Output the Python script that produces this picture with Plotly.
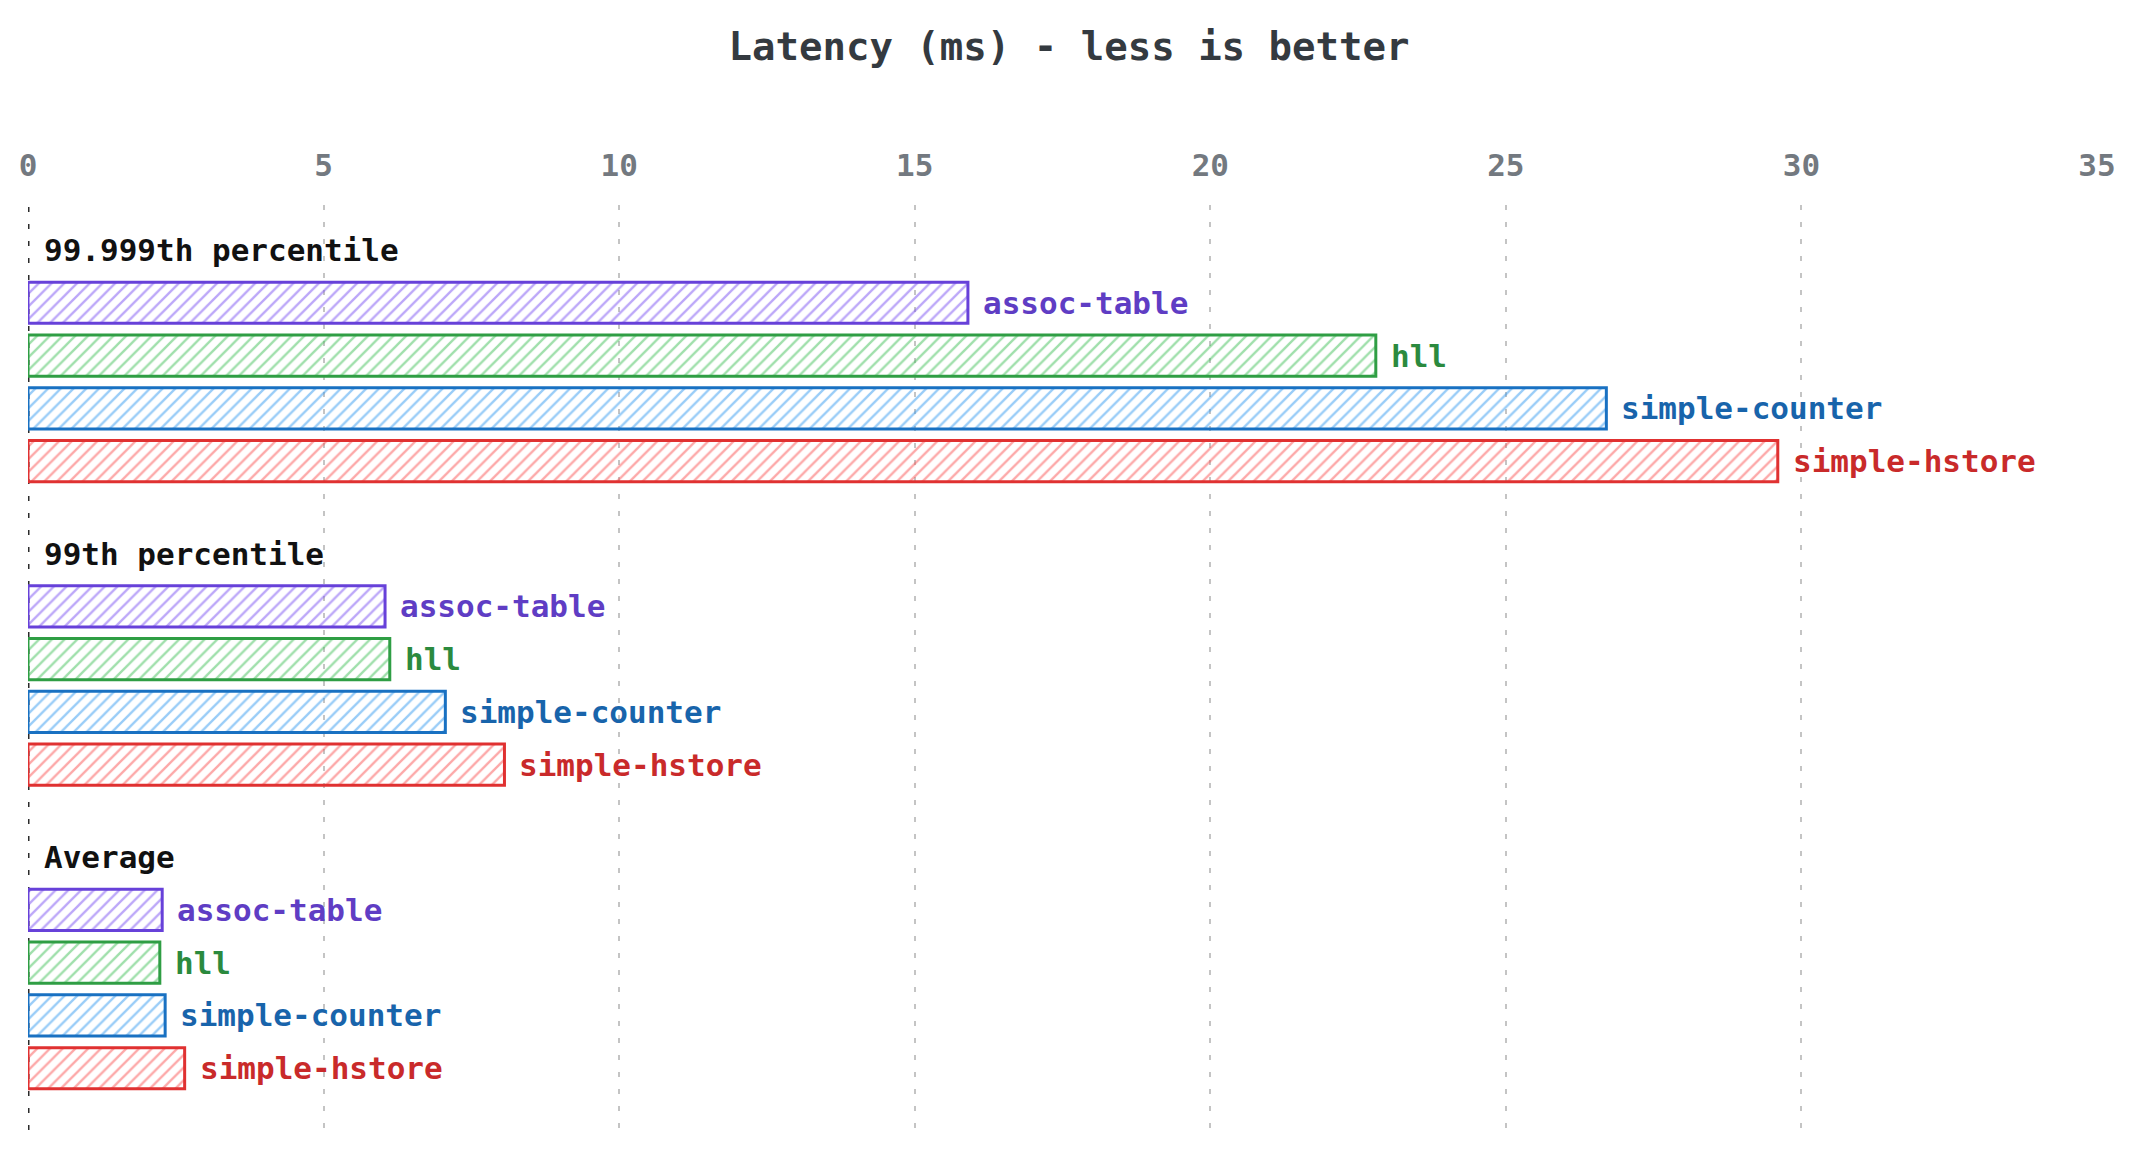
import plotly.graph_objects as go

# ---- data ----
groups = ["99.999th percentile", "99th percentile", "Average"]
series = ["assoc-table", "hll", "simple-counter", "simple-hstore"]
assoc_table = [15.9, 6.04, 2.27]
hll = [22.8, 6.12, 2.23]
simple_counter = [26.7, 7.06, 2.32]
simple_hstore = [29.6, 8.06, 2.65]
values = [assoc_table, hll, simple_counter, simple_hstore]
x_ticks = [0, 5, 10, 15, 20, 25, 30, 35]

# ---- style ----
line_colors = ["#6741d9", "#2f9e44", "#1971c2", "#e03131"]
hatch_colors = ["#7950f2", "#40c057", "#339af0", "#fa5252"]
label_colors = ["#5f3dc4", "#2b8a3e", "#1864ab", "#c92a2a"]
FONT = "DejaVu Sans Mono"
GROUP_STEP = 5.75

fig = go.Figure()
for s, name in enumerate(series):
    ys = [g * GROUP_STEP + 1 + s for g in range(len(groups))]
    fig.add_trace(go.Bar(
        x=values[s], y=ys, orientation="h", width=0.78, name=name,
        marker=dict(
            color="rgba(255,255,255,0)",
            line=dict(color=line_colors[s], width=3),
            pattern=dict(shape="/", fgcolor=hatch_colors[s], bgcolor="rgba(255,255,255,0)",
                         size=9, solidity=0.26, fillmode="overlay"),
        ),
        cliponaxis=False,
        hoverinfo="skip",
    ))
    for g in range(len(groups)):
        fig.add_annotation(x=values[s][g], y=ys[g], xref="x", yref="y", text=name,
                           showarrow=False, xanchor="left", yanchor="middle", xshift=13,
                           font=dict(family=FONT, size=31, color=label_colors[s], weight="bold"))

for g, gname in enumerate(groups):
    fig.add_annotation(x=0, y=g * GROUP_STEP, xref="x", yref="y", text=gname,
                       showarrow=False, xanchor="left", yanchor="middle", xshift=14,
                       font=dict(family=FONT, size=31, color="#111111", weight="bold"))

fig.add_shape(type="line", x0=0, x1=0, xref="x", y0=0, y1=1, yref="paper",
              line=dict(color="#2b2b2b", width=3, dash="5px,12px"), layer="below")

fig.update_layout(
    width=2138, height=1160,
    margin=dict(l=28, r=41, t=205, b=30),
    paper_bgcolor="white", plot_bgcolor="white",
    showlegend=False, barmode="overlay",
    title=dict(text="Latency (ms) - less is better", x=0.5, xanchor="center",
               y=1 - 46 / 1160, yref="container", yanchor="middle",
               font=dict(family=FONT, size=39, color="#343a40", weight="bold")),
    xaxis=dict(side="top", range=[0, 35], tickvals=x_ticks, ticktext=[str(t) for t in x_ticks],
               showgrid=True, gridcolor="#c4c4c4", gridwidth=2, griddash="5px,12px",
               zeroline=False, showline=False, ticks="", ticklabelstandoff=22,
               tickfont=dict(family=FONT, size=31, color="#737980", weight="bold")),
    yaxis=dict(range=[16.67, -0.852], showgrid=False, zeroline=False,
               showticklabels=False, showline=False),
)

fig.write_html("out.html")
